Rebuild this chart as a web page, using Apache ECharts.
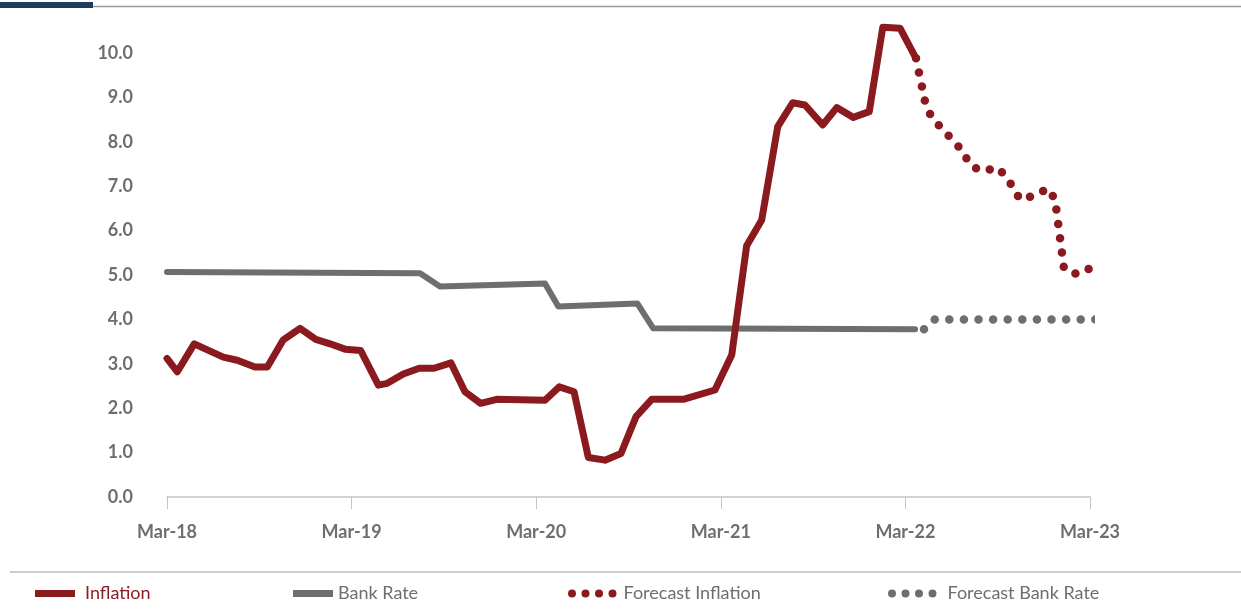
<!DOCTYPE html>
<html>
<head>
<meta charset="utf-8">
<script src="https://cdn.jsdelivr.net/npm/echarts@6/dist/echarts.min.js"></script>
<style>
html,body{margin:0;padding:0;background:#fff;}
#chart{width:1241px;height:610px;}
</style>
</head>
<body>
<div id="chart"></div>
<script>
// x values are months since Mar-18
const yearLabels = ['Mar-18','Mar-19','Mar-20','Mar-21','Mar-22','Mar-23'];

const inflationMonths = [0,0.67,1.77,3.66,4.57,5.72,6.52,7.56,8.65,9.67,10.6,11.57,12.59,13.74,14.32,15.36,16.4,17.36,18.46,19.37,20.39,21.43,24.57,25.5,26.46,27.39,28.47,29.51,30.49,31.51,33.56,35.62,36.71,37.68,38.66,39.7,40.67,41.47,42.62,43.54,44.61,45.65,46.53,47.65,48.69];
const inflationValues = [3.12,2.82,3.45,3.15,3.08,2.93,2.93,3.54,3.80,3.55,3.45,3.33,3.30,2.52,2.56,2.77,2.90,2.90,3.02,2.37,2.11,2.20,2.18,2.48,2.37,0.89,0.83,0.98,1.81,2.20,2.20,2.41,3.20,5.66,6.24,8.34,8.88,8.83,8.38,8.77,8.55,8.68,10.58,10.56,9.88];

const forecastInflationMonths = [48.69,49.28,49.67,50.25,51.42,52.33,53.05,53.96,54.6,55.45,56.36,57.27,57.73,58.31,59.16,59.94];
const forecastInflationValues = [9.88,8.90,8.57,8.34,7.91,7.44,7.34,7.42,7.20,6.70,6.79,6.95,6.70,5.14,5.02,5.14];

const bankRateMonths = [0,16.45,17.75,24.57,25.44,30.57,31.61,48.63];
const bankRateValues = [5.07,5.04,4.74,4.81,4.29,4.36,3.80,3.78];

const forecastBankMonths = [49.21,49.88,60.39];
const forecastBankValues = [3.78,4.00,4.00];

const RED = '#8b1a1e';
const GREY = '#6d6e71';

function pairs(xs, ys){ return xs.map((x,i)=>[x, ys[i]]); }

const dotsIcon = 'path://M0,4A4,4 0 1,0 8,4A4,4 0 1,0 0,4Z M13.5,4A4,4 0 1,0 21.5,4A4,4 0 1,0 13.5,4Z M27,4A4,4 0 1,0 35,4A4,4 0 1,0 27,4Z M40.5,4A4,4 0 1,0 48.5,4A4,4 0 1,0 40.5,4Z';

function lt(pad, color){ return {fontFamily:'Lato', fontSize:18, color:color||GREY, padding:[0,0,0,pad]}; }

const chart = echarts.init(document.getElementById('chart'));
chart.setOption({
  animation:false,
  backgroundColor:'#fff',
  grid:{left:167, right:151, top:8.6, bottom:113},
  graphic:[
    {type:'rect', shape:{x:0,y:2,width:93,height:6}, style:{fill:'#1c3d5e'}},
    {type:'line', shape:{x1:93,y1:6.5,x2:1241,y2:6.5}, style:{stroke:'#9a9a9a', lineWidth:1.5}},
    {type:'line', shape:{x1:10,y1:572,x2:1241,y2:572}, style:{stroke:'#bdbdbd', lineWidth:1.5}}
  ],
  legend:[
    {left:30, top:579.5, selectedMode:false, itemWidth:40, itemHeight:7, icon:'rect',
     data:['Inflation'], textStyle:lt(5, RED)},
    {left:288, top:579.5, selectedMode:false, itemWidth:40, itemHeight:7, icon:'rect',
     data:['Bank Rate'], textStyle:lt(0)},
    {left:563, top:579.5, selectedMode:false, itemWidth:48.5, itemHeight:8, icon:dotsIcon,
     data:['Forecast Inflation'], textStyle:lt(2)},
    {left:883, top:579.5, selectedMode:false, itemWidth:48.5, itemHeight:8, icon:dotsIcon,
     data:['Forecast Bank Rate'], textStyle:lt(6)}
  ],
  xAxis:{
    type:'value', min:0, max:60, interval:12,
    axisLine:{show:true, lineStyle:{color:'#c4c4c4', width:1.5}},
    axisTick:{show:true, length:12, lineStyle:{color:'#c4c4c4', width:1}},
    splitLine:{show:false},
    axisLabel:{margin:26, color:GREY, fontFamily:'Lato', fontWeight:'bold', fontSize:18,
      formatter:v=>yearLabels[Math.round(v/12)]}
  },
  yAxis:{
    type:'value', min:0, max:11, interval:1,
    axisLine:{show:false}, axisTick:{show:false}, splitLine:{show:false},
    axisLabel:{margin:34, color:GREY, fontFamily:'Lato', fontWeight:'bold', fontSize:18,
      showMaxLabel:false, formatter:v=>v.toFixed(1)}
  },
  series:[
    {name:'Bank Rate', type:'line', data:pairs(bankRateMonths, bankRateValues), showSymbol:false, symbol:'none',
     itemStyle:{color:GREY}, lineStyle:{color:GREY, width:6, join:'round', cap:'round'}},
    {name:'Forecast Bank Rate', type:'line', data:pairs(forecastBankMonths, forecastBankValues), showSymbol:false, symbol:'none', clip:false,
     itemStyle:{color:GREY}, lineStyle:{color:GREY, width:8.5, type:[0,14.6], cap:'round', join:'round'}},
    {name:'Inflation', type:'line', data:pairs(inflationMonths, inflationValues), showSymbol:false, symbol:'none',
     itemStyle:{color:RED}, lineStyle:{color:RED, width:7, join:'round', cap:'round'}},
    {name:'Forecast Inflation', type:'line', data:pairs(forecastInflationMonths, forecastInflationValues), showSymbol:false, symbol:'none', clip:false,
     itemStyle:{color:RED}, lineStyle:{color:RED, width:8.5, type:[0,14.4], cap:'round', join:'round'}}
  ]
});
</script>
</body>
</html>
